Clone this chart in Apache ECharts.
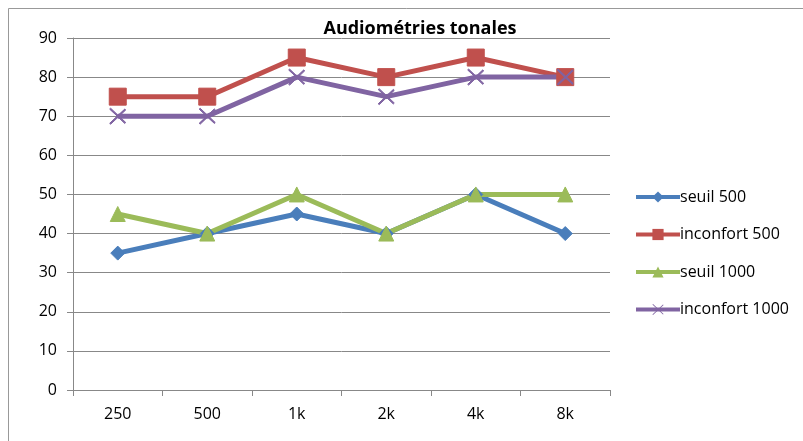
<!DOCTYPE html>
<html>
<head>
<meta charset="utf-8">
<script src="https://cdn.jsdelivr.net/npm/echarts@6/dist/echarts.min.js"></script>
<style>html,body{margin:0;padding:0;background:#fff}#chart{width:803px;height:441px}</style>
</head>
<body>
<div id="chart"></div>
<script>
const frequences = ["250", "500", "1k", "2k", "4k", "8k"];
const seuil500 = [35, 40, 45, 40, 50, 40];
const inconfort500 = [75, 75, 85, 80, 85, 80];
const seuil1000 = [45, 40, 50, 40, 50, 50];
const inconfort1000 = [70, 70, 80, 75, 80, 80];

const crossPath = "path://M0,0 L10,10 M10,0 L0,10 M0,0 L0.6,-0.6 L10.6,9.4 L10,10 Z M10,0 L10.6,0.6 L0.6,10.6 L0,10 Z";

const myChart = echarts.init(document.getElementById("chart"));

function serie(name, data, color, symbol, size) {
  return {
    name: name,
    type: "line",
    data: data,
    symbol: symbol,
    symbolSize: size,
    showAllSymbol: true,
    lineStyle: { color: color, width: 5 },
    itemStyle: { color: color, borderColor: color },
    emphasis: { disabled: true },
  };
}

myChart.setOption({
  animation: false,
  textStyle: { fontFamily: "Open Sans" },
  title: {
    text: "Audiométries tonales",
    left: 415,
    top: 15,
    textAlign: "center",
    textStyle: { fontSize: 18, fontWeight: "bold", color: "#000", fontFamily: "Open Sans" },
  },
  grid: { left: 73, right: 193, top: 38, bottom: 51, containLabel: false },
  legend: {
    orient: "vertical",
    left: 629,
    top: 184,
    itemWidth: 44,
    itemHeight: 14,
    itemGap: 21.5,
    lineStyle: { width: 4 },
    textStyle: { fontSize: 16, color: "#000", padding: [0, 0, 0, -5] },
    data: ["seuil 500", "inconfort 500", "seuil 1000", "inconfort 1000"],
  },
  xAxis: {
    type: "category",
    data: frequences,
    boundaryGap: true,
    axisLine: { lineStyle: { color: "#888", width: 1 } },
    axisTick: { show: true, length: 6, lineStyle: { color: "#888" } },
    axisLabel: { fontSize: 16, color: "#000", margin: 16 },
  },
  yAxis: {
    type: "value",
    min: 0,
    max: 90,
    interval: 10,
    axisLine: { show: true, lineStyle: { color: "#888" } },
    axisTick: { show: true, length: 6, lineStyle: { color: "#888" } },
    axisLabel: { fontSize: 16, color: "#000", margin: 16 },
    splitLine: { lineStyle: { color: "#888", width: 1 } },
  },
  graphic: [
    {
      type: "rect",
      shape: { x: 8.5, y: 8.5, width: 810, height: 450 },
      style: { fill: "none", stroke: "#999", lineWidth: 1 },
      silent: true,
    },
  ],
  series: [
    serie("seuil 500", seuil500, "#4a7ebb", "diamond", 14),
    serie("inconfort 500", inconfort500, "#c0504d", "rect", 17),
    serie("seuil 1000", seuil1000, "#9bbb59", "triangle", 15),
    serie("inconfort 1000", inconfort1000, "#8064a2", crossPath, 16),
  ],
});
</script>
</body>
</html>
